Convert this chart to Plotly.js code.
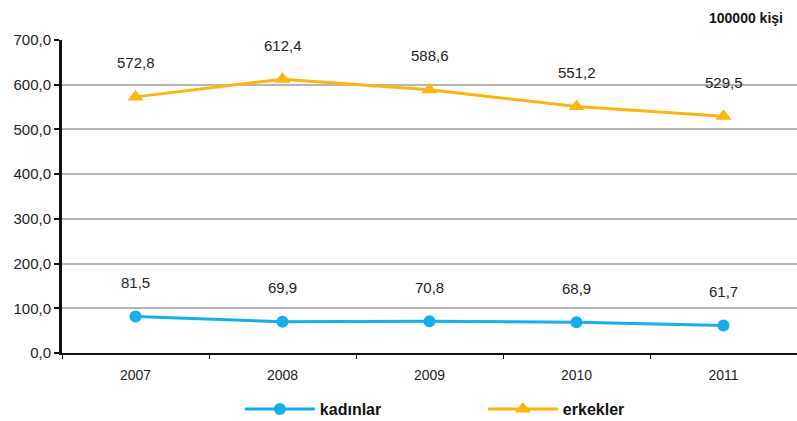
<!DOCTYPE html>
<html><head><meta charset="utf-8">
<script src="https://cdn.plot.ly/plotly-3.0.1.min.js"></script>
<style>body{margin:0;background:#fff}#c{width:797px;height:421px}</style>
</head><body><div id="c"></div>
<script>
const years = ['2007','2008','2009','2010','2011'];
const kadinlar = [81.5, 69.9, 70.8, 68.9, 61.7];
const erkekler = [572.8, 612.4, 588.6, 551.2, 529.5];
const yTicks = [0,100,200,300,400,500,600,700];
const fmt = v => v.toFixed(1).replace('.', ',');

const traces = [
  {x: years, y: kadinlar, name: 'kadınlar', type: 'scatter', mode: 'lines+markers',
   line: {color: '#14AEEB', width: 3}, marker: {symbol: 'circle', size: 12, color: '#14AEEB'}},
  {x: years, y: erkekler, name: 'erkekler', type: 'scatter', mode: 'lines+markers',
   line: {color: '#FFB40F', width: 3}, marker: {symbol: 'triangle-up', size: 14, color: '#FFB40F'}}
];
const ann = [];
[kadinlar, erkekler].forEach(arr => arr.forEach((v, i) => ann.push({
  xref: 'x', yref: 'y', x: i, y: v, text: fmt(v), showarrow: false, yshift: 34,
  font: {family: 'Liberation Sans, Arial', size: 15, color: '#222'}
})));
ann.push({xref: 'paper', yref: 'paper', x: 1, y: 1, xanchor: 'right', yanchor: 'bottom', yshift: 12, xshift: -12,
  text: '<b>100000 kişi</b>', showarrow: false, font: {family: 'Liberation Sans Narrow, Liberation Sans', size: 14, color: '#111'}});

Plotly.newPlot('c', traces, {
  width: 797, height: 421,
  margin: {l: 62, r: 0, t: 40, b: 68, autoexpand: false},
  paper_bgcolor: '#fff', plot_bgcolor: '#fff',
  font: {family: 'Liberation Sans, Arial', size: 14, color: '#222'},
  xaxis: {type: 'category', range: [-0.5, 4.5], showgrid: false, showline: true, linecolor: '#111', linewidth: 2,
    ticks: 'outside', tickson: 'boundaries', ticklen: 4, tickcolor: '#111', zeroline: false, ticklabelstandoff: 8},
  yaxis: {range: [0, 700], tickvals: yTicks, ticktext: yTicks.map(fmt), showgrid: true, gridcolor: '#b5b5b5', gridwidth: 2,
    showline: true, linecolor: '#111', linewidth: 3, ticks: 'outside', ticklen: 5, tickwidth: 2, tickcolor: '#111', zeroline: false,
    tickfont: {size: 15}},
  showlegend: true,
  legend: {orientation: 'h', x: 0.242, y: -0.125, xanchor: 'left', yanchor: 'top', entrywidth: 158, entrywidthmode: 'pixels',
    itemwidth: 70,
    font: {family: 'Liberation Sans Narrow, Liberation Sans', size: 16, color: '#111', weight: 'bold'}},
  annotations: ann
}, {displayModeBar: false});
</script></body></html>
